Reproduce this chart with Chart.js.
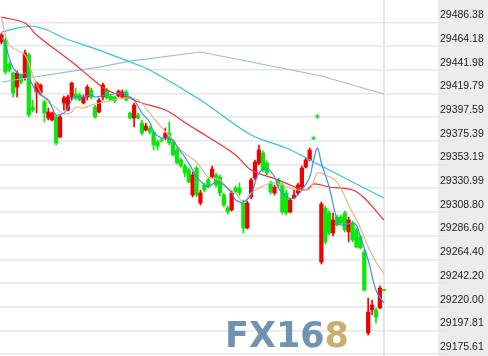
<!DOCTYPE html>
<html>
<head>
<meta charset="utf-8">
<script src="https://cdn.jsdelivr.net/npm/chart.js@4.4.1/dist/chart.umd.min.js"></script>
<style>
body { margin: 0; background: #fff; }
#wrap { position: relative; width: 488px; height: 356px; }
#logo { position: absolute; left: 225px; top: 317px; font: bold 35px "DejaVu Sans"; line-height: 36px; color: #7193b3; white-space: nowrap; }
#logo span { color: #c9ae6c; }
</style>
</head>
<body>
<div id="wrap"><canvas id="chart"></canvas><div id="logo">FX16<span>8</span></div></div>
<script>
// candles, oldest first
const opens = [29467.9, 29469.8, 29447.3, 29438.9, 29425.8, 29437.0, 29434.2, 29455.8, 29407.1, 29421.1,
    29420.2, 29411.7, 29396.7, 29394.9, 29397.7, 29379.0, 29410.8, 29404.2, 29416.4, 29419.2,
    29418.3, 29410.8, 29416.4, 29423.0, 29407.1, 29402.4, 29416.4, 29423.0, 29417.4, 29416.4,
    29417.4, 29416.4, 29421.1, 29401.4, 29396.7, 29399.6, 29392.1, 29385.5, 29387.4, 29383.6,
    29374.3, 29376.2, 29378.0, 29382.7, 29374.3, 29366.8, 29357.4, 29351.8, 29348.0, 29324.6,
    29349.9, 29317.1, 29334.0, 29338.7, 29341.5, 29343.4, 29341.5, 29324.6, 29312.4, 29310.6,
    29331.2, 29331.2, 29317.1, 29293.7, 29322.8, 29340.5, 29354.6, 29364.0, 29354.6, 29335.9,
    29326.5, 29338.7, 29334.0, 29326.5, 29308.7, 29321.8, 29326.5, 29332.1, 29350.8, 29357.4,
    29378.0, 29398.6, 29262.0, 29312.4, 29307.8, 29289.0, 29304.0, 29304.0, 29307.8, 29290.0,
    29298.4, 29291.8, 29285.3, 29271.2, 29195.4, 29216.9, 29216.9, 29218.8, 29235.6]
const highs = [29476.4, 29471.7, 29449.2, 29439.8, 29440.8, 29438.0, 29460.4, 29457.6, 29413.6, 29430.5,
    29428.6, 29413.6, 29406.1, 29402.4, 29399.6, 29399.6, 29417.4, 29418.3, 29430.5, 29424.8,
    29420.2, 29418.3, 29427.7, 29424.8, 29408.9, 29415.5, 29429.5, 29424.8, 29418.3, 29417.4,
    29423.0, 29423.0, 29423.0, 29402.4, 29410.8, 29401.4, 29394.9, 29392.1, 29389.3, 29385.5,
    29376.2, 29378.0, 29387.4, 29393.0, 29376.2, 29368.7, 29359.3, 29353.7, 29349.9, 29346.2,
    29351.8, 29329.3, 29335.9, 29340.5, 29351.8, 29345.2, 29343.4, 29326.5, 29314.3, 29328.4,
    29333.1, 29335.9, 29319.9, 29319.0, 29340.5, 29357.4, 29371.5, 29365.9, 29356.5, 29337.7,
    29334.0, 29340.5, 29335.9, 29329.3, 29321.8, 29329.3, 29335.9, 29351.8, 29359.3, 29368.7,
    29379.4, 29400.0, 29318.1, 29314.3, 29309.6, 29307.8, 29305.9, 29305.9, 29309.6, 29304.0,
    29300.3, 29293.7, 29287.2, 29273.1, 29228.1, 29226.3, 29218.8, 29239.4, 29236.0]
const lows = [29466.1, 29438.0, 29439.8, 29416.4, 29416.4, 29428.6, 29432.3, 29397.7, 29402.4, 29401.4,
    29418.3, 29393.0, 29394.9, 29393.9, 29371.5, 29378.0, 29404.2, 29403.3, 29413.6, 29413.6,
    29412.7, 29409.9, 29413.6, 29414.5, 29396.7, 29401.4, 29413.6, 29414.5, 29412.7, 29410.8,
    29416.4, 29415.5, 29412.7, 29395.8, 29388.3, 29395.8, 29380.8, 29384.6, 29381.8, 29366.8,
    29366.8, 29374.3, 29376.2, 29371.5, 29361.2, 29353.7, 29350.8, 29341.5, 29335.9, 29322.8,
    29322.8, 29315.3, 29327.4, 29331.2, 29340.5, 29332.1, 29323.7, 29313.4, 29306.8, 29309.6,
    29326.5, 29324.6, 29289.0, 29292.8, 29320.9, 29338.7, 29352.7, 29346.2, 29343.4, 29325.6,
    29324.6, 29332.1, 29306.8, 29305.9, 29307.8, 29320.9, 29324.6, 29330.2, 29349.9, 29356.5,
    29376.6, 29396.4, 29260.0, 29278.7, 29287.2, 29286.2, 29295.6, 29297.5, 29290.0, 29280.6,
    29280.6, 29275.0, 29274.0, 29234.7, 29193.5, 29212.2, 29204.7, 29217.8, 29234.7]
const closes = [29474.5, 29439.8, 29441.7, 29420.2, 29438.9, 29430.5, 29457.6, 29399.6, 29404.2, 29429.5,
    29427.7, 29401.4, 29402.4, 29401.4, 29373.3, 29397.7, 29415.5, 29416.4, 29429.5, 29415.5,
    29413.6, 29416.4, 29425.8, 29416.4, 29397.7, 29413.6, 29427.7, 29415.5, 29413.6, 29412.7,
    29422.0, 29421.1, 29413.6, 29396.7, 29408.9, 29396.7, 29382.7, 29389.3, 29383.6, 29371.5,
    29370.5, 29375.2, 29382.7, 29373.3, 29362.1, 29354.6, 29351.8, 29345.2, 29336.8, 29343.4,
    29324.6, 29326.5, 29329.3, 29333.1, 29349.0, 29334.0, 29326.5, 29315.3, 29308.7, 29326.5,
    29327.4, 29326.5, 29293.7, 29317.1, 29338.7, 29355.5, 29366.8, 29348.0, 29345.2, 29327.4,
    29332.1, 29334.0, 29308.7, 29307.8, 29319.9, 29324.6, 29334.0, 29349.9, 29357.4, 29366.8,
    29377.2, 29397.8, 29316.2, 29280.6, 29289.0, 29301.2, 29296.5, 29298.4, 29291.8, 29301.2,
    29282.5, 29275.9, 29275.0, 29235.6, 29215.0, 29221.6, 29210.3, 29237.5, 29235.2]

// moving averages, read at candle positions
const ma5X = [0, 1, 2, 3, 5, 6, 7, 9, 10, 12, 13, 14, 16, 17, 18, 19, 21, 23, 24, 27, 31, 32, 34, 36, 38, 39, 41, 42, 44, 45, 47, 49, 50, 52, 53, 55, 57, 59, 60, 62, 64, 65, 66, 68, 70, 71, 73, 75, 77, 79, 80, 81, 82, 84, 86, 87, 90, 91, 92, 94, 96, 98]
const ma5Y = [29472.6, 29465.1, 29452.9, 29443.6, 29437.0, 29438.9, 29434.2, 29421.1, 29418.3, 29413.6, 29406.1, 29399.6, 29401.4, 29406.1, 29413.6, 29416.4, 29416.4, 29418.3, 29416.4, 29418.3, 29420.2, 29418.3, 29413.6, 29401.4, 29393.0, 29383.6, 29378.0, 29378.0, 29376.1, 29369.6, 29360.2, 29348.0, 29341.5, 29334.0, 29332.1, 29336.8, 29334.0, 29326.5, 29319.9, 29318.1, 29324.6, 29335.9, 29345.2, 29349.9, 29341.5, 29331.2, 29322.8, 29321.8, 29329.3, 29341.5, 29357.4, 29368.6, 29354.6, 29332.1, 29301.2, 29296.5, 29298.4, 29296.5, 29285.3, 29263.7, 29235.6, 29223.5]
const ma10X = [0, 2, 6, 8, 10, 12, 14, 16, 18, 19, 21, 23, 25, 32, 35, 38, 40, 44, 46, 50, 53, 56, 58, 60, 62, 64, 69, 71, 74, 76, 79, 81, 83, 86, 89, 92, 94, 96, 98]
const ma10Y = [29490.4, 29465.1, 29455.8, 29437.0, 29421.1, 29411.7, 29406.1, 29400.5, 29402.4, 29407.0, 29406.1, 29408.9, 29410.8, 29415.5, 29413.6, 29401.4, 29392.1, 29376.1, 29366.8, 29355.5, 29341.5, 29338.7, 29331.2, 29326.5, 29318.1, 29326.5, 29335.9, 29334.9, 29331.2, 29329.3, 29330.2, 29345.2, 29343.4, 29336.8, 29315.3, 29293.7, 29276.0, 29261.9, 29251.5]
const ma20X = [0, 6, 9, 14, 19, 23, 27, 32, 36, 42, 48, 53, 60, 64, 71, 74, 78, 80, 84, 90, 93, 98]
const ma20Y = [29491.3, 29485.7, 29474.5, 29460.4, 29446.4, 29434.2, 29423.0, 29416.4, 29410.8, 29404.2, 29390.2, 29378.9, 29362.1, 29348.0, 29338.7, 29334.0, 29329.3, 29334.9, 29332.1, 29329.3, 29321.8, 29301.2]
const ma30X = [0, 7, 11, 16, 25, 33, 38, 51, 64, 73, 84, 89, 98]
const ma30Y = [29477.3, 29482.9, 29480.1, 29471.7, 29460.4, 29449.2, 29441.7, 29413.6, 29380.8, 29368.6, 29348.0, 29338.7, 29321.8]
const ma60X = [0, 25, 33, 51, 64, 82, 98]
const ma60Y = [29430.5, 29444.5, 29450.1, 29458.6, 29449.2, 29436.1, 29419.2]

// price axis labels
const tickValues = [29486.38, 29464.18, 29441.98, 29419.79, 29397.59, 29375.39, 29353.19,
    29330.99, 29308.80, 29286.60, 29264.40, 29242.20, 29220.00, 29197.81, 29175.61]

const upColor = '#f20000'
const downColor = '#0be60b'
const candleIdx = opens.map((v, i) => i)

function candleColor(ctx) {
    return closes[ctx.dataIndex] >= opens[ctx.dataIndex] ? upColor : downColor
}

function maLine(label, xs, ys, color, tension) {
    return {
        type: 'line',
        label: label,
        data: xs.map((x, k) => ({x: x, y: ys[k]})),
        borderColor: color,
        borderWidth: 1.2,
        pointRadius: 0,
        tension: tension,
        fill: false
    }
}

const panel = {
    id: 'panel',
    beforeDraw(chart) {
        const c = chart.ctx
        const y = chart.scales.y
        c.save()
        c.fillStyle = '#ececec'
        c.fillRect(y.left, 0, chart.width - y.left, chart.height)
        c.restore()
    }
}

const ctx = document.querySelector('#chart').getContext('2d')
new Chart(ctx, {
    type: 'bar',
    data: {
        datasets: [
            maLine('MA5', ma5X, ma5Y, '#3d8fe8', 0.35),
            maLine('MA10', ma10X, ma10Y, '#eab38c', 0.35),
            maLine('MA20', ma20X, ma20Y, '#f03030', 0.35),
            maLine('MA30', ma30X, ma30Y, '#2cc6d8', 0.35),
            maLine('MA60', ma60X, ma60Y, '#94bfdc', 0),
            {
                label: 'body',
                data: candleIdx.map(i => ({x: i, y: [opens[i], closes[i]]})),
                backgroundColor: candleColor,
                barThickness: 3.6,
                minBarLength: 1,
                grouped: false
            },
            {
                label: 'wick',
                data: candleIdx.map(i => ({x: i, y: [lows[i], highs[i]]})),
                backgroundColor: candleColor,
                barThickness: 1,
                grouped: false
            }
        ]
    },
    options: {
        responsive: true,
        maintainAspectRatio: false,
        animation: false,
        layout: { padding: 0 },
        plugins: {
            legend: { display: false },
            tooltip: { enabled: false }
        },
        scales: {
            x: {
                type: 'linear',
                offset: false,
                min: -0.385,
                max: 111.9,
                afterBuildTicks: (s) => { s.ticks = [{value: opens.length - 1}] },
                afterFit: (s) => { s.height = 0 },
                grid: { offset: false, color: '#e4e4e4', lineWidth: 2, drawTicks: false },
                border: { display: false },
                ticks: { display: false }
            },
            y: {
                position: 'right',
                min: 29173.8,
                max: 29507.3,
                afterBuildTicks: (s) => { s.ticks = tickValues.map(v => ({value: v})) },
                afterFit: (s) => { s.width = 50 },
                grid: { color: '#e6e6e6', lineWidth: 1.5, tickLength: 10 },
                border: { display: false },
                ticks: {
                    padding: -8,
                    labelOffset: -7,
                    color: '#222',
                    font: { family: 'Liberation Sans', size: 10.5 },
                    callback: (v) => Number(v).toFixed(2)
                }
            }
        }
    },
    plugins: [panel]
})
</script>
</body>
</html>
